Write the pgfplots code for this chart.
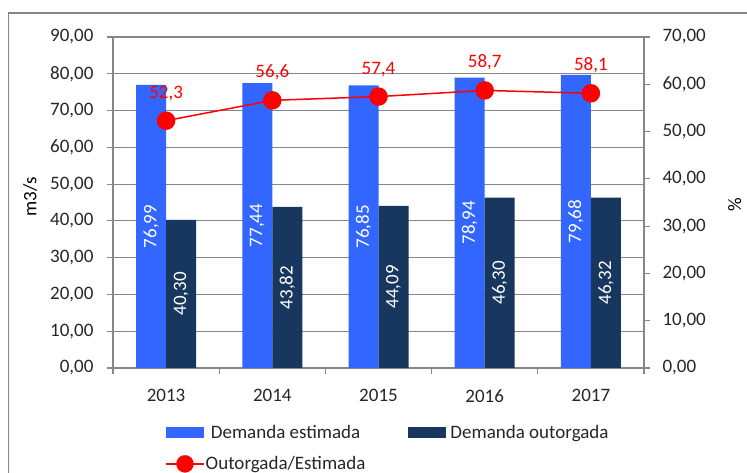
\documentclass[border=0pt]{standalone}
\usepackage{pgfplots}
\pgfplotsset{compat=1.18}
\usepackage{fontspec}
\setmainfont{Carlito}
\definecolor{cblue}{HTML}{3366FF}
\definecolor{cnavy}{HTML}{17375E}
\definecolor{cgrid}{HTML}{868686}
\definecolor{ctext}{HTML}{262626}
\begin{document}
\begin{tikzpicture}[font=\fontsize{19}{23}\selectfont]
\path[use as bounding box] (0,0) rectangle (747pt,473pt);
\draw[cgrid, line width=1.5pt] (8.5pt,0) -- (8.5pt,460pt) -- (747pt,460pt);
\pgfplotsset{
  every axis/.append style={
    scale only axis, width=531pt, height=331pt,
    at={(113pt,105pt)}, anchor=south west,
    xmin=-0.5, xmax=4.5,
    /pgf/number format/assume math mode=true,
    tick label style={font=\fontsize{19}{23}\selectfont, text=ctext},
    label style={font=\fontsize{19}{23}\selectfont, text=black},
    axis line style={cgrid, line width=1.2pt},
    tick style={cgrid, line width=1.2pt},
    tick align=outside, major tick length=6pt,
    scaled y ticks=false,
    yticklabel style={/pgf/number format/fixed, /pgf/number format/fixed zerofill, /pgf/number format/precision=2, /pgf/number format/use comma},
  }
}
\begin{axis}[
  ymin=0, ymax=90, ytick={0,10,...,90},
  axis x line*=bottom, axis y line*=left,
  ybar=0pt, bar width=30pt,
  ymajorgrids, grid style={cgrid, line width=1.2pt},
  xtick={-0.5,0.5,1.5,2.5,3.5,4.5},
  xticklabels={2013,2014,2015,2016,2017},
  x tick label as interval,
  xmajorgrids=false,
  yticklabel style={xshift=-10pt},
  xticklabel style={yshift=-12pt},
  ylabel={m3/s},
  every axis y label/.style={at={(axis description cs:-0.156,0.517)}, rotate=90, anchor=center},
  nodes near coords={\pgfmathprintnumber[fixed, fixed zerofill, precision=2, use comma]{\pgfplotspointmeta}},
  visualization depends on=y \as \rawy,
  every node near coord/.append style={text=white, shift={(axis direction cs:0,-\rawy/2)}, rotate=90, anchor=center, font=\fontsize{19}{23}\selectfont},
  legend columns=2,
  legend style={at={(axis description cs:0.098,-0.17)}, anchor=north west, draw=none, fill=none, inner sep=0pt, row sep=14pt,
    nodes={inner sep=1pt, text=ctext, font=\fontsize{19}{23}\selectfont},
    /tikz/every odd column/.append style={column sep=0pt},
    /tikz/every even column/.append style={column sep=42pt}},
  legend image code/.code={\fill[#1] (0pt,-5.5pt) rectangle (38pt,5.5pt);},
]
\addplot[fill=cblue, draw=none] coordinates {(0,76.99) (1,77.44) (2,76.85) (3,78.94) (4,79.68)};
\addplot[fill=cnavy, draw=none] coordinates {(0,40.30) (1,43.82) (2,44.09) (3,46.30) (4,46.32)};
\addlegendentry{Demanda estimada}
\addlegendentry{\hspace{3pt}Demanda outorgada}
\addlegendimage{legend image code/.code={\draw[red, line width=1.5pt] (0pt,0pt) -- (38pt,0pt); \fill[red] (19pt,0pt) circle (8.5pt);}}
\addlegendentry{Outorgada/Estimada}
\end{axis}
\begin{axis}[
  ymin=0, ymax=70, ytick={0,10,...,70},
  axis y line*=right, axis x line=none,
  yticklabel style={xshift=9pt},
  ylabel={\%},
  every axis y label/.style={at={(axis description cs:1.171,0.492)}, rotate=90, anchor=center},
]
\addplot[red, line width=1.5pt, mark=*, mark size=8.5pt, mark options={fill=red, draw=red},
  nodes near coords={\pgfmathprintnumber[fixed, fixed zerofill, precision=1, use comma]{\pgfplotspointmeta}},
  every node near coord/.append style={text=red, anchor=south, yshift=16pt, font=\fontsize{19}{23}\selectfont}]
  coordinates {(0,52.3) (1,56.6) (2,57.4) (3,58.7) (4,58.1)};
\end{axis}
\end{tikzpicture}
\end{document}
